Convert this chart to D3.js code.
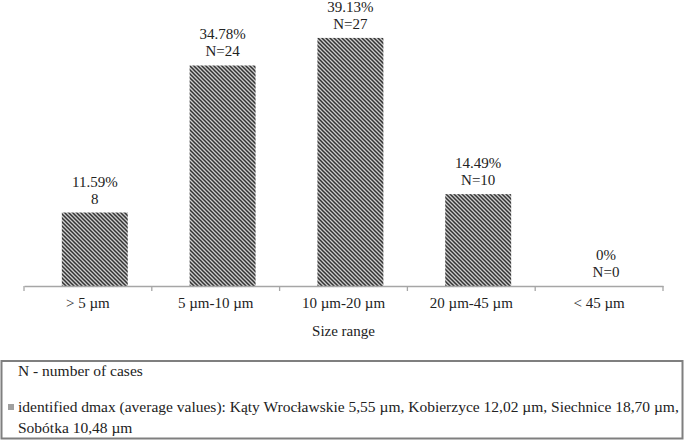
<!DOCTYPE html>
<html>
<head>
<meta charset="utf-8">
<script src="https://cdn.jsdelivr.net/npm/d3@7"></script>
<style>
  html, body { margin: 0; padding: 0; background: #fff; }
  svg { display: block; }
</style>
</head>
<body>
<svg id="chart" width="685" height="441"></svg>
<script>
const categories = ["> 5 \u00b5m", "5 \u00b5m-10 \u00b5m", "10 \u00b5m-20 \u00b5m", "20 \u00b5m-45 \u00b5m", "< 45  \u00b5m"];
const percentValues = [11.59, 34.78, 39.13, 14.49, 0];
const percentLabels = ["11.59%", "34.78%", "39.13%", "14.49%", "0%"];
const countLabels = ["8", "N=24", "N=27", "N=10", "N=0"];
const axisTitle = "Size range";
const legendLines = [
  "N - number of cases",
  "identified dmax (average values): K\u0105ty Wroc\u0142awskie 5,55 \u00b5m, Kobierzyce 12,02 \u00b5m, Siechnice 18,70 \u00b5m,",
  "Sob\u00f3tka 10,48 \u00b5m"
];

// pick an installed serif font (Times-like preferred)
function hasFont(name) {
  const ctx = document.createElement("canvas").getContext("2d");
  const s = "mmmmmmmmmmlli WQ 0123456789 Size range";
  const res = ["monospace", "sans-serif"].map(fb => {
    ctx.font = "40px " + fb;
    const w0 = ctx.measureText(s).width;
    ctx.font = "40px '" + name + "', " + fb;
    return ctx.measureText(s).width !== w0;
  });
  return res[0] || res[1];
}
const candidates = ["Liberation Serif", "Tinos", "Times New Roman", "Nimbus Roman", "DejaVu Serif", "Noto Serif"];
const found = candidates.find(hasFont);
const FONT = (found ? "'" + found + "', " : "") + "serif";
const svg = d3.select("#chart").attr("font-family", FONT).style("font-family", FONT);

// hatch pattern
const defs = svg.append("defs");
const pat = defs.append("pattern")
  .attr("id", "hatch")
  .attr("patternUnits", "userSpaceOnUse")
  .attr("width", 4).attr("height", 4);
pat.append("rect").attr("width", 4).attr("height", 4).attr("fill", "#cccccc");
pat.append("path")
  .attr("d", "M-1,-1 L5,5 M-1,3 L1,5 M3,-1 L5,1")
  .attr("stroke", "#333333").attr("stroke-width", 1.5);

const x = d3.scaleBand().domain(categories).range([24, 663]).paddingInner(0).paddingOuter(0);
const y = d3.scaleLinear().domain([0, 45]).range([286, 0.7]);

const bw = x.bandwidth();
const barW = bw * 0.516;
const shift = bw * 0.054;
const barX = c => x(c) + (bw - barW) / 2 + shift;

// bars
svg.append("g").selectAll("rect")
  .data(categories)
  .join("rect")
  .attr("x", c => barX(c))
  .attr("y", (c, i) => y(percentValues[i]))
  .attr("width", barW)
  .attr("height", (c, i) => y(0) - y(percentValues[i]))
  .attr("fill", "url(#hatch)");

function txt(sel) {
  return sel.style("font-family", FONT).attr("fill", "#222");
}

// data labels
const lab = svg.append("g").attr("text-anchor", "middle");
categories.forEach((c, i) => {
  const cx = barX(c) + barW / 2;
  const top = y(percentValues[i]);
  txt(lab.append("text")).attr("font-size", 15).attr("x", cx).attr("y", top - 26).text(percentLabels[i]);
  txt(lab.append("text")).attr("font-size", 15).attr("x", cx).attr("y", top - 9).text(countLabels[i]);
});

// x axis
const axis = d3.axisBottom(x).tickSize(0).tickPadding(0);
const gAxis = svg.append("g").attr("transform", "translate(0,286)").call(axis);
gAxis.attr("font-family", FONT).attr("font-size", 15);
gAxis.select(".domain").attr("stroke", "#a6a6a6").attr("stroke-width", 1.3);
txt(gAxis.selectAll(".tick text"))
  .attr("font-size", 15)
  .attr("dy", null)
  .attr("y", 22);
// boundary ticks
const bounds = categories.map(c => x(c)).concat([x.range()[1]]);
gAxis.selectAll("line.bound")
  .data(bounds)
  .join("line")
  .attr("class", "bound")
  .attr("x1", d => d).attr("x2", d => d)
  .attr("y1", 0).attr("y2", 5)
  .attr("stroke", "#a6a6a6").attr("stroke-width", 1.3);

// axis title
txt(svg.append("text"))
  .attr("x", (x.range()[0] + x.range()[1]) / 2)
  .attr("y", 336)
  .attr("text-anchor", "middle")
  .attr("font-size", 15)
  .text(axisTitle);

// legend box
svg.append("rect")
  .attr("x", 1.5).attr("y", 361)
  .attr("width", 681).attr("height", 77.5)
  .attr("fill", "none")
  .attr("stroke", "#7f7f7f").attr("stroke-width", 2);

txt(svg.append("text")).attr("x", 18).attr("y", 376).attr("font-size", 15.5).text(legendLines[0]);
svg.append("rect").attr("x", 8).attr("y", 404).attr("width", 6).attr("height", 6).attr("fill", "#a0a0a0");
txt(svg.append("text")).attr("x", 18).attr("y", 412).attr("font-size", 15.5).text(legendLines[1]);
txt(svg.append("text")).attr("x", 18).attr("y", 433).attr("font-size", 15.5).text(legendLines[2]);
</script>
</body>
</html>
